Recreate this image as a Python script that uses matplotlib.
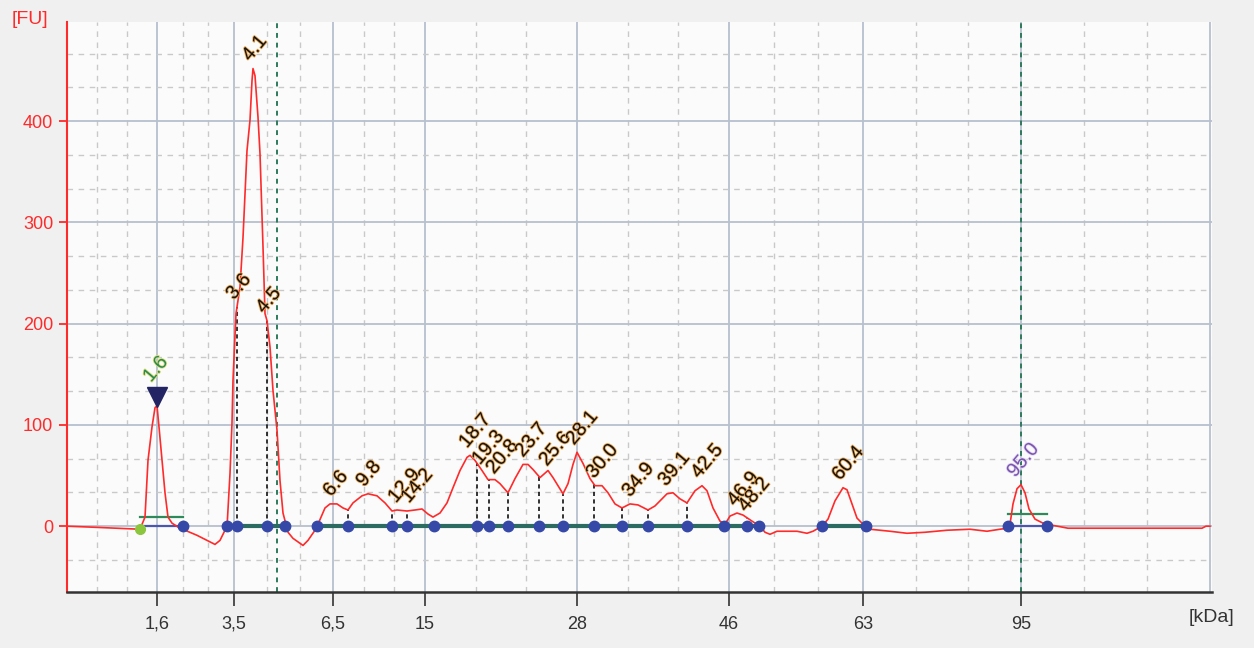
import numpy as np
import matplotlib
matplotlib.use("Agg")
import matplotlib.pyplot as plt
import matplotlib.patheffects as pe

# migration position (arbitrary units) and fluorescence [FU]
pos = [67, 93, 140, 145, 148, 152, 155, 157, 159, 162, 165, 168, 172, 180, 185,
       197, 207, 215, 220, 225, 227, 230, 232, 233, 236, 238, 240, 243, 247, 250,
       252, 253, 255, 258, 260, 263, 265, 267, 270, 273, 277, 280, 283, 288, 293,
       303, 308, 315, 318, 325, 330, 337, 343, 348, 353, 362, 368, 377, 385, 392,
       397, 407, 415, 422, 428, 433, 440, 447, 453, 460, 467, 470, 475, 482, 488,
       495, 500, 508, 515, 523, 528, 533, 540, 548, 553, 563, 568, 573, 577, 583,
       590, 595, 602, 608, 615, 622, 630, 638, 648, 655, 667, 673, 680, 687, 695,
       702, 707, 713, 720, 725, 730, 737, 743, 752, 760, 765, 770, 777, 797, 807,
       813, 822, 828, 835, 843, 847, 852, 857, 863, 870, 890, 907, 925, 947, 970,
       987, 1000, 1008, 1010, 1013, 1017, 1021, 1025, 1029, 1035, 1043, 1052, 1068,
       1113, 1202, 1206, 1210]
fu = [0, -1, -3, 9, 65, 98, 117, 119, 98, 65, 33, 9, 3, -2, -4,
      -9, -14, -18, -14, -4, -1, 52, 102, 144, 210, 223, 236, 285, 371, 401,
      440, 452, 445, 404, 368, 276, 210, 203, 177, 134, 95, 45, 13, -6, -12,
      -19, -14, -4, 2, 18, 22, 22, 18, 16, 23, 30, 32, 30, 23, 15,
      16, 15, 16, 17, 12, 9, 13, 23, 38, 55, 68, 70, 65, 55, 46,
      46, 42, 33, 47, 61, 61, 56, 48, 55, 48, 32, 42, 61, 73, 62,
      47, 40, 40, 33, 22, 18, 22, 21, 16, 20, 32, 33, 27, 23, 35,
      40, 35, 18, 5, 2, 10, 13, 11, 5, 0, -6, -8, -5, -5, -7,
      -5, 0, 7, 25, 38, 36, 22, 8, 2, -3, -5, -7, -6, -4, -3,
      -5, -3, -2, 2, 22, 37, 41, 33, 17, 7, 3, 1, -2,
      -2, -2, 0, 0]

tick_pos = [157, 234, 333, 425, 577, 729, 863, 1021]
tick_labels = ["1,6", "3,5", "6,5", "15", "28", "46", "63", "95"]
grid_major = [67] + tick_pos + [1210]

peak_names = ["3.6", "4.1", "4.5", "6.6", "9.8", "12.9", "14.2", "18.7", "19.3",
              "20.8", "23.7", "25.6", "28.1", "30.0", "34.9", "39.1", "42.5",
              "46.9", "48.2", "60.4"]
peak_pos = [237, 253, 267, 334, 367, 399, 412, 470, 483, 497, 526, 550, 577,
            597, 633, 669, 702, 738, 749, 843]

boundary_pos = [183, 227, 237, 267, 285, 317, 348, 392, 407, 434, 477, 489, 508,
                539, 563, 594, 622, 648, 687, 724, 747, 759, 822, 866, 1008, 1047]
split_pos = [237, 267, 348, 392, 407, 477, 489, 508, 539, 563, 594, 622, 648, 687, 747]
baseline_segs = [(227, 285), (317, 759), (822, 866)]
marker_segs = [(140, 183), (1008, 1047)]  # lower marker and upper marker
marker_pos = [157, 1021]
marker_names = ["1.6", "95.0"]
marker_width_fu = [9, 12]
marker_lines = [277, 1021]

plt.rcParams["font.family"] = ["Liberation Sans", "DejaVu Sans"]

fig = plt.figure(figsize=(12.54, 6.48), dpi=100, facecolor="#f0f0f0")
ax = fig.add_axes([67 / 1254, 56 / 648, 1145 / 1254, 570 / 648])
ax.set_facecolor("#fbfbfb")
ax.set_xlim(67, 1212)
ax.set_ylim(-65, 498)

# grid
minor = []
for a, b in zip(grid_major[:-1], grid_major[1:]):
    minor += [a + (b - a) / 3, a + 2 * (b - a) / 3]
for x in grid_major:
    ax.axvline(x, color="#b7c0cf", lw=1.3, zorder=0)
for x in minor:
    ax.axvline(x, color="#c9c9c9", lw=1, ls=(0, (4, 4)), zorder=0)
for y in range(0, 500, 100):
    ax.axhline(y, color="#b7c0cf", lw=1.3, zorder=0)
for y in np.arange(-100, 500, 100):
    for k in (1, 2):
        ax.axhline(y + k * 100 / 3, color="#c9c9c9", lw=1, ls=(0, (4, 4)), zorder=0)

for x in marker_lines:
    ax.axvline(x, color="#2e7a5c", lw=1.4, ls=(0, (2.5, 2.5)), zorder=1)

# baselines
for a, b in baseline_segs:
    ax.plot([a, b], [0, 0], color="#2b6b62", lw=3, zorder=2)
for (a, b), w in zip(marker_segs, marker_width_fu):
    ax.plot([a, b], [0, 0], color="#4a56b0", lw=1.6, zorder=2)
    ax.plot([a, b], [w, w], color="#2e8a5a", lw=1.6, zorder=2)

# drop lines at peak splits
for x in split_pos:
    ax.plot([x, x], [0, np.interp(x, pos, fu)], color="#111111", lw=1.2,
            ls=(0, (2.5, 2)), zorder=2)

ax.plot(pos, fu, color="#ff2a2a", lw=1.2, zorder=3)

ax.plot(boundary_pos, [0] * len(boundary_pos), ls="none", marker="o", ms=7.5,
        color="#3548a8", zorder=4)
ax.plot([marker_segs[0][0]], [np.interp(marker_segs[0][0], pos, fu)], ls="none",
        marker="o", ms=7, color="#8cc63f", zorder=4)

peak_lm = np.interp(marker_pos[0], pos, fu)
ax.plot([marker_pos[0]], [peak_lm + 9], marker="v", ms=14, color="#232463", zorder=5)

halo = [pe.withStroke(linewidth=1.2, foreground="#eea850")]
for name, x in zip(peak_names, peak_pos):
    ax.text(x, np.interp(x, pos, fu) + 4, name, rotation=50, rotation_mode="anchor",
            ha="left", va="bottom", fontsize=14, color="#151515", path_effects=halo,
            zorder=6)
ax.text(marker_pos[0] - 3, peak_lm + 20, marker_names[0], rotation=50,
        rotation_mode="anchor", ha="left", va="bottom", fontsize=14, color="#2a8a55",
        path_effects=[pe.withStroke(linewidth=1.2, foreground="#e2e07a")], zorder=6)
ax.text(marker_pos[1] - 3, np.interp(marker_pos[1], pos, fu) + 4, marker_names[1],
        rotation=50, rotation_mode="anchor", ha="left", va="bottom", fontsize=14,
        color="#7a55b0", path_effects=[pe.withStroke(linewidth=1.2, foreground="#e4d8f2")],
        zorder=6)

# axes styling
for s in ("top", "right"):
    ax.spines[s].set_visible(False)
ax.spines["left"].set_color("#ff2a2a")
ax.spines["left"].set_linewidth(1.5)
ax.spines["bottom"].set_color("#333333")
ax.spines["bottom"].set_linewidth(1.8)
ax.set_yticks([0, 100, 200, 300, 400])
ax.tick_params(axis="y", colors="#ff2a2a", labelsize=13, length=6, width=1.3, pad=4)
ax.set_xticks(tick_pos)
ax.set_xticklabels(tick_labels)
ax.tick_params(axis="x", colors="#333333", labelsize=13, length=10, width=1.2, pad=7)

fig.text(30 / 1254, 1 - 20 / 648, "[FU]", color="#ff2a2a", fontsize=14,
         ha="center", va="center")
fig.text(1212 / 1254, 1 - 618 / 648, "[kDa]", color="#333333", fontsize=14,
         ha="center", va="center")

fig.savefig("out.png", dpi=100, facecolor=fig.get_facecolor())
